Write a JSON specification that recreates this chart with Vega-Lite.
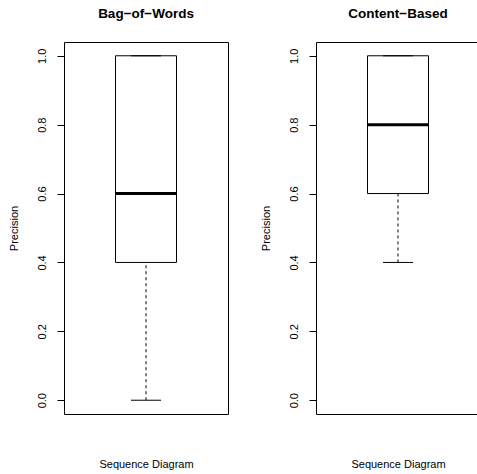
{
  "$schema": "https://vega.github.io/schema/vega-lite/v6.json",
  "background": "white",
  "padding": {"left": 7, "top": 6, "right": 0, "bottom": 0},
  "datasets": {
    "boxes": [
      {"method": "Bag-of-Words", "diagram": "Sequence Diagram", "min": 0.0, "q1": 0.4, "median": 0.6, "q3": 1.0, "max": 1.0},
      {"method": "Content-Based", "diagram": "Sequence Diagram", "min": 0.4, "q1": 0.6, "median": 0.8, "q3": 1.0, "max": 1.0}
    ]
  },
  "config": {
    "font": "Liberation Sans",
    "view": {"stroke": "black", "strokeWidth": 1},
    "axis": {
      "labelFont": "Liberation Sans", "labelFontSize": 11, "labelColor": "black",
      "titleFont": "Liberation Sans", "titleFontSize": 11, "titleFontWeight": "normal", "titleColor": "black",
      "tickColor": "black", "grid": false, "domain": false
    },
    "title": {"font": "Liberation Sans", "fontSize": 13.5, "fontWeight": "bold", "color": "black", "anchor": "middle", "offset": 22}
  },
  "spacing": 30,
  "hconcat": [
    {
      "title": "Bag−of−Words",
      "width": 164, "height": 372,
      "data": {"name": "boxes"},
      "transform": [{"filter": "datum.method === 'Bag-of-Words'"}],
      "encoding": {
        "x": {"field": "diagram", "type": "nominal",
              "scale": {"paddingInner": 0, "paddingOuter": 0.844},
              "axis": {"title": "Sequence Diagram", "labels": false, "ticks": false, "titlePadding": 44, "titleBaseline": "top"}}
      },
      "layer": [
        {"mark": {"type": "rule", "strokeDash": [3, 3], "color": "black", "strokeWidth": 1},
         "encoding": {"y": {"field": "min", "type": "quantitative",
            "scale": {"domain": [-0.04, 1.04], "nice": false, "zero": false},
            "axis": {"title": "Precision", "values": [0, 0.2, 0.4, 0.6, 0.8, 1.0], "format": ".1f", "labelAngle": -90, "labelAlign": "center", "labelBaseline": "bottom", "tickSize": 7, "labelPadding": 10, "titlePadding": 17}},
           "y2": {"field": "q1"}}},
        {"mark": {"type": "rule", "strokeDash": [3, 3], "color": "black", "strokeWidth": 1},
         "encoding": {"y": {"field": "q3", "type": "quantitative"}, "y2": {"field": "max"}}},
        {"mark": {"type": "bar", "fill": "white", "stroke": "black", "strokeWidth": 1},
         "encoding": {"y": {"field": "q1", "type": "quantitative"}, "y2": {"field": "q3"}}},
        {"mark": {"type": "tick", "color": "black", "opacity": 1, "size": 30, "thickness": 1},
         "encoding": {"y": {"field": "min", "type": "quantitative"}}},
        {"mark": {"type": "tick", "color": "black", "opacity": 1, "size": 30, "thickness": 1},
         "encoding": {"y": {"field": "max", "type": "quantitative"}}},
        {"mark": {"type": "tick", "color": "black", "opacity": 1, "size": 61, "thickness": 3},
         "encoding": {"y": {"field": "median", "type": "quantitative"}}}
      ]
    },
    {
      "title": "Content−Based",
      "width": 164, "height": 372,
      "data": {"name": "boxes"},
      "transform": [{"filter": "datum.method === 'Content-Based'"}],
      "encoding": {
        "x": {"field": "diagram", "type": "nominal",
              "scale": {"paddingInner": 0, "paddingOuter": 0.844},
              "axis": {"title": "Sequence Diagram", "labels": false, "ticks": false, "titlePadding": 44, "titleBaseline": "top"}}
      },
      "layer": [
        {"mark": {"type": "rule", "strokeDash": [3, 3], "color": "black", "strokeWidth": 1},
         "encoding": {"y": {"field": "min", "type": "quantitative",
            "scale": {"domain": [-0.04, 1.04], "nice": false, "zero": false},
            "axis": {"title": "Precision", "values": [0, 0.2, 0.4, 0.6, 0.8, 1.0], "format": ".1f", "labelAngle": -90, "labelAlign": "center", "labelBaseline": "bottom", "tickSize": 7, "labelPadding": 10, "titlePadding": 17}},
           "y2": {"field": "q1"}}},
        {"mark": {"type": "rule", "strokeDash": [3, 3], "color": "black", "strokeWidth": 1},
         "encoding": {"y": {"field": "q3", "type": "quantitative"}, "y2": {"field": "max"}}},
        {"mark": {"type": "bar", "fill": "white", "stroke": "black", "strokeWidth": 1},
         "encoding": {"y": {"field": "q1", "type": "quantitative"}, "y2": {"field": "q3"}}},
        {"mark": {"type": "tick", "color": "black", "opacity": 1, "size": 30, "thickness": 1},
         "encoding": {"y": {"field": "min", "type": "quantitative"}}},
        {"mark": {"type": "tick", "color": "black", "opacity": 1, "size": 30, "thickness": 1},
         "encoding": {"y": {"field": "max", "type": "quantitative"}}},
        {"mark": {"type": "tick", "color": "black", "opacity": 1, "size": 61, "thickness": 3},
         "encoding": {"y": {"field": "median", "type": "quantitative"}}}
      ]
    }
  ]
}
